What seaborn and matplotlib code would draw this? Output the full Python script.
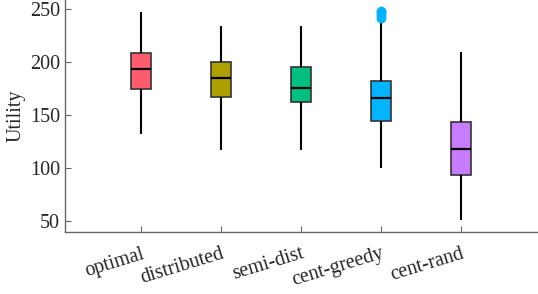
import numpy as np
import pandas as pd
import matplotlib
matplotlib.use('Agg')
import matplotlib.pyplot as plt
import seaborn as sns

# methods and the five-number summaries
methods = ['optimal', 'distributed', 'semi-dist', 'cent-greedy', 'cent-rand']
whisk_lo = [132, 117, 117, 100, 51]
q1 = [174, 167, 162, 144, 94]
median = [193, 185, 175, 166, 118]
q3 = [208, 200, 195, 182, 143]
whisk_hi = [247, 234, 234, 236, 209]

# outliers of cent-greedy
outlier_method = ['cent-greedy'] * 5
outlier_vals = [241, 243, 245, 247, 248]

colors = ['#FF5C6C', '#ADA000', '#00BF80', '#00B4FF', '#C77CFF']

rows = []
for i, m in enumerate(methods):
    for v in (whisk_lo[i], q1[i], median[i], q3[i], whisk_hi[i]):
        rows.append({'method': m, 'utility': v})
df = pd.DataFrame(rows)
out_df = pd.DataFrame({'method': outlier_method, 'utility': outlier_vals})

sns.set_style('ticks')
plt.rcParams['font.family'] = ['Liberation Serif', 'DejaVu Serif']

fig, ax = plt.subplots(figsize=(5.38, 2.94), dpi=100)
sns.boxplot(data=df, x='method', y='utility', order=methods, hue='method',
            palette=colors, saturation=1, legend=False, width=0.26, whis=np.inf,
            showcaps=False, linewidth=1.2, ax=ax,
            boxprops={'edgecolor': '#333333'},
            whiskerprops={'color': 'black', 'linewidth': 1.5},
            medianprops={'color': 'black', 'linewidth': 1.6})
sns.stripplot(data=out_df, x='method', y='utility', order=methods,
              jitter=False, color='#00B4FF', size=7, ax=ax)

ax.set_xlim(-0.95, 4.95)
ax.set_ylim(40, 258)
ax.set_yticks([50, 100, 150, 200, 250])
ax.set_xlabel('')
ax.set_ylabel('Utility', fontsize=14.5, labelpad=3)
ax.tick_params(direction='in', length=4, color='#666666', labelsize=14.5,
               labelcolor='#262626')
ax.tick_params(axis='x', pad=9)
plt.setp(ax.get_xticklabels(), rotation=17, ha='right', rotation_mode='anchor')
sns.despine(ax=ax)
for s in ['left', 'bottom']:
    ax.spines[s].set_color('#666666')
    ax.spines[s].set_linewidth(1.0)

fig.subplots_adjust(left=0.121, right=0.998, top=1.0, bottom=0.211)
fig.savefig('out.png', dpi=100)
